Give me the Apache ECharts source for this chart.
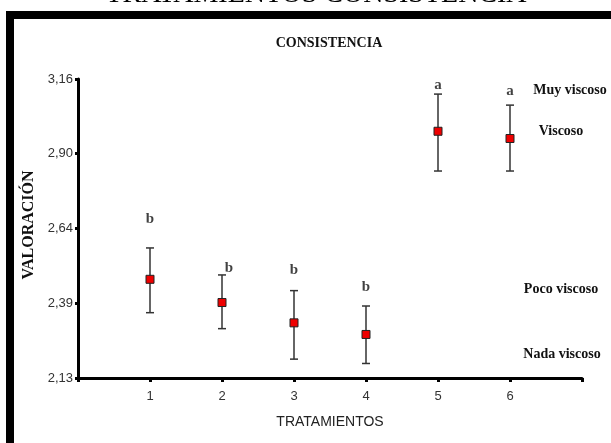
<!DOCTYPE html>
<html><head><meta charset="utf-8">
<script src="https://cdn.jsdelivr.net/npm/echarts@6/dist/echarts.min.js"></script>
<style>html,body{margin:0;padding:0;background:#fff}#c{width:611px;height:443px}</style>
</head><body><div id="c"></div>
<script>
// ---- data ----
const treatments = [1, 2, 3, 4, 5, 6];
const means = [2.47, 2.39, 2.32, 2.28, 2.98, 2.955];
const errLow = [2.355, 2.30, 2.195, 2.18, 2.843, 2.843];
const errHigh = [2.578, 2.485, 2.431, 2.378, 3.108, 3.070];
const groupLetters = ['b', 'b', 'b', 'b', 'a', 'a'];
const yTickLabels = ['2,13', '2,39', '2,64', '2,90', '3,16'];
const xTickLabels = ['', '1', '2', '3', '4', '5', '6', ''];
const scaleLabels = ['Muy viscoso', 'Viscoso', 'Poco viscoso', 'Nada viscoso'];

// ---- styles ----
const yMin = 2.13, yMax = 3.16, yStep = (yMax - yMin) / 4;
const letterOffsets = [[0, -16], [7, 6], [0, -8], [0, -6], [0, 4], [0, -2]];
const scalePos = [[570, 90], [561, 131], [561, 289], [562, 354]];
const serif = '"Liberation Serif","DejaVu Serif",serif';
const sans = '"Liberation Sans",Arial,sans-serif';

const chart = echarts.init(document.getElementById('c'), null, {renderer: 'canvas'});
chart.setOption({
  animation: false,
  backgroundColor: '#fff',
  grid: {left: 78, right: 29, top: 79, bottom: 65, containLabel: false},
  xAxis: {
    type: 'value', min: 0, max: 7, interval: 1,
    axisLine: {show: true, onZero: false, lineStyle: {color: '#000', width: 3}},
    axisTick: {show: true, length: 4, lineStyle: {color: '#000', width: 3}},
    splitLine: {show: false},
    axisLabel: {color: '#333', fontFamily: sans, fontSize: 13, margin: 12,
      formatter: v => xTickLabels[Math.round(v)] || ''},
    name: 'TRATAMIENTOS', nameLocation: 'middle', nameGap: 37,
    nameTextStyle: {color: '#222', fontFamily: sans, fontSize: 14}
  },
  yAxis: {
    type: 'value', min: yMin, max: yMax, interval: yStep,
    axisLine: {show: true, onZero: false, lineStyle: {color: '#000', width: 3}},
    axisTick: {show: true, length: 3, lineStyle: {color: '#000', width: 3}},
    splitLine: {show: false},
    axisLabel: {color: '#333', fontFamily: sans, fontSize: 13, margin: 5,
      formatter: v => yTickLabels[Math.round((v - yMin) / yStep)] || ''}
  },
  graphic: [
    {type: 'rect', shape: {x: 10, y: 15, width: 700, height: 600}, style: {fill: 'none', stroke: '#000', lineWidth: 8}, silent: true},
    {type: 'text', x: 316, y: 9, style: {text: 'TRATAMIENTOS CONSISTENCIA', font: '28px ' + serif, fill: '#000', textAlign: 'center', textVerticalAlign: 'bottom'}},
    {type: 'text', x: 329, y: 43, style: {text: 'CONSISTENCIA', font: 'bold 14px ' + serif, fill: '#111', textAlign: 'center', textVerticalAlign: 'middle'}},
    {type: 'text', x: 29, y: 225, rotation: Math.PI / 2, style: {text: 'VALORACIÓN', font: 'bold 16px ' + serif, fill: '#111', textAlign: 'center', textVerticalAlign: 'middle'}}
  ].concat(scaleLabels.map((t, i) => ({
    type: 'text', x: scalePos[i][0], y: scalePos[i][1],
    style: {text: t, font: 'bold 14px ' + serif, fill: '#111', textAlign: 'center', textVerticalAlign: 'middle'}
  }))),
  series: [
    {
      type: 'custom',
      data: treatments.map((t, i) => [t, errLow[i], errHigh[i]]),
      renderItem: (params, api) => {
        const lo = api.coord([api.value(0), api.value(1)]);
        const hi = api.coord([api.value(0), api.value(2)]);
        const w = 4;
        const st = {stroke: '#333', lineWidth: 1.5};
        return {type: 'group', children: [
          {type: 'line', shape: {x1: lo[0], y1: lo[1], x2: hi[0], y2: hi[1]}, style: st},
          {type: 'line', shape: {x1: lo[0] - w, y1: lo[1], x2: lo[0] + w, y2: lo[1]}, style: st},
          {type: 'line', shape: {x1: hi[0] - w, y1: hi[1], x2: hi[0] + w, y2: hi[1]}, style: st}
        ]};
      },
      z: 2
    },
    {
      type: 'scatter',
      data: treatments.map((t, i) => [t, means[i]]),
      symbol: 'rect', symbolSize: 8,
      itemStyle: {color: '#ee0000', borderColor: '#222', borderWidth: 1, opacity: 1},
      z: 3
    },
    {
      type: 'scatter',
      data: treatments.map((t, i) => ({
        value: [t, errHigh[i]],
        label: {offset: letterOffsets[i]}
      })),
      symbolSize: 0,
      label: {show: true, position: 'top', distance: 5,
        formatter: p => groupLetters[p.dataIndex],
        fontFamily: serif, fontWeight: 'bold', fontSize: 15, color: '#111'},
      z: 4
    }
  ]
});
</script></body></html>
